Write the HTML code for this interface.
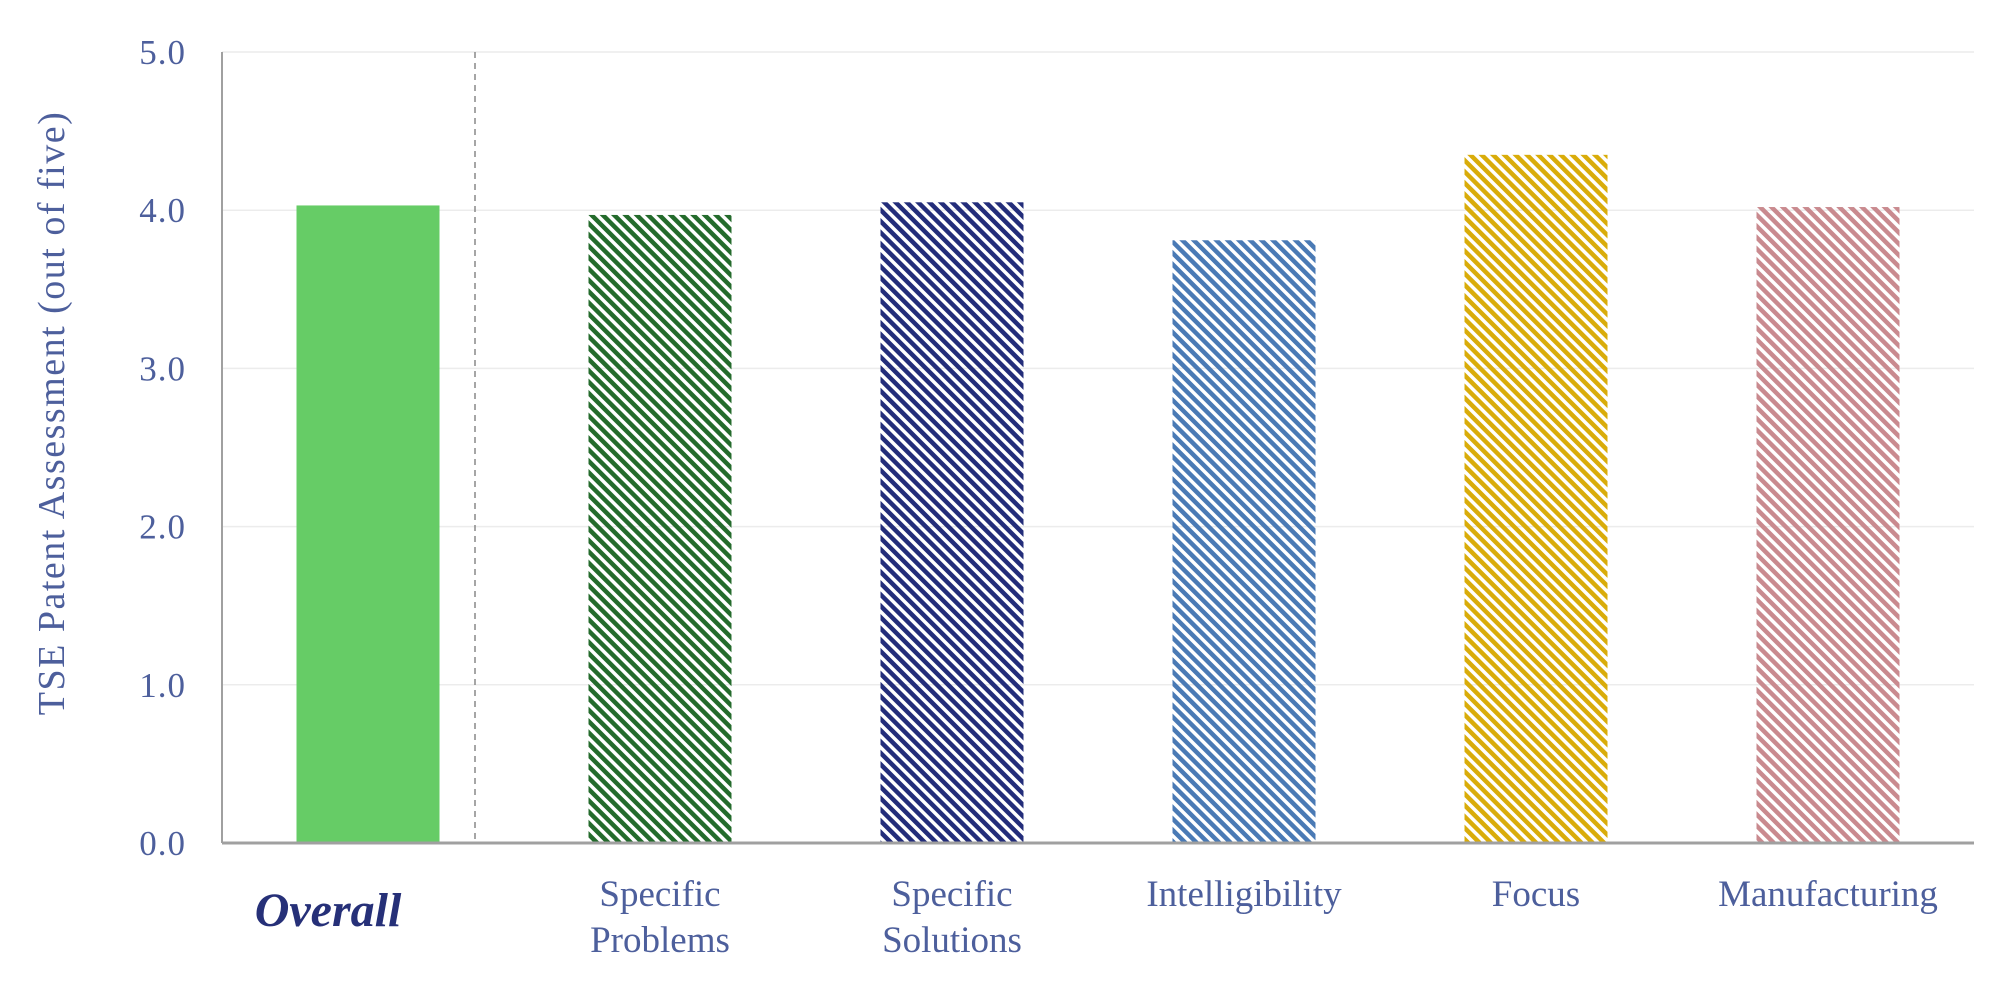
<!DOCTYPE html>
<html><head><meta charset="utf-8"><style>
html,body{margin:0;padding:0;background:#fff;}
svg{display:block;font-family:"Liberation Serif",serif;}
</style></head><body>
<svg id="chart" width="2015" height="988" viewBox="0 0 2015 988" xmlns="http://www.w3.org/2000/svg">
<defs>
</defs>
<g id="grid"></g>
<g id="bars"></g>
<g id="axes"></g>
<g id="labels"></g>
<text transform="translate(64,413) rotate(-90)" text-anchor="middle" font-size="38" letter-spacing="1.5" fill="#4d5f9c">TSE Patent Assessment (out of five)</text>
</svg>
<script>
const categories = ["Overall", "Specific|Problems", "Specific|Solutions", "Intelligibility", "Focus", "Manufacturing"];
const values = [4.03, 3.97, 4.05, 3.81, 4.35, 4.02];
const colors = ["#66cc66", "#246b2c", "#232d7a", "#4a7ab5", "#d9ac0a", "#c98a8f"];
const ticks = [0, 1, 2, 3, 4, 5];
const tickLabels = ["0.0", "1.0", "2.0", "3.0", "4.0", "5.0"];

const NS = "http://www.w3.org/2000/svg";
const X0 = 222, X1 = 1974, Y0 = 843, Y5 = 52;
const yScale = v => Y0 - (v - 0) / 5 * (Y0 - Y5);
const step = 292, first = 368, bw = 143;
const xScale = i => first + i * step;
function mk(tag, attrs, parent) {
  const e = document.createElementNS(NS, tag);
  for (const k in attrs) e.setAttribute(k, attrs[k]);
  parent.appendChild(e);
  return e;
}
const svg = document.getElementById('chart');
const defs = svg.querySelector('defs');
const grid = document.getElementById('grid');
const bars = document.getElementById('bars');
const axes = document.getElementById('axes');
const labels = document.getElementById('labels');

ticks.forEach((t, i) => {
  if (t > 0) {
    const l = mk('line', {x1: X0, x2: X1, y1: yScale(t), y2: yScale(t), stroke: '#ececec', 'stroke-width': 1.5}, grid);
    
    
  }
  const tx = mk('text', {x: 186, y: yScale(t) + 12, 'text-anchor': 'end', 'font-size': 35, 'letter-spacing': 1, fill: '#4d5f9c'}, labels);
  tx.textContent = tickLabels[i];
  
  
});

categories.forEach((c, i) => {
  const cx = xScale(i);
  let fill = colors[i];
  if (i > 0) {
    const p = mk('pattern', {id: 'h' + i, patternUnits: 'userSpaceOnUse', width: 8, height: 8, patternTransform: 'rotate(-45)'}, defs);
    mk('rect', {x: 0, y: 0, width: 4.5, height: 8, fill: colors[i]}, p);
    fill = 'url(#h' + i + ')';
  }
  const r = mk('rect', {x: cx - bw / 2, y: yScale(values[i]), width: bw, height: Y0 - yScale(values[i]), fill: fill}, bars);
  
  
  const parts = c.split('|');
  if (i === 0) {
    const t = mk('text', {x: cx - 40, y: 926, 'text-anchor': 'middle', 'font-size': 48, 'font-weight': 'bold', 'font-style': 'italic', fill: '#263078'}, labels);
    t.textContent = c;
    
    
  } else {
    parts.forEach((p, j) => {
      const t = mk('text', {x: cx, y: 906 + j * 46, 'text-anchor': 'middle', 'font-size': 37, fill: '#4d5f9c'}, labels);
      t.textContent = p;
      
      
    });
  }
});

let a = mk('line', {x1: X0, x2: X0, y1: Y5, y2: Y0, stroke: '#a0a0a0', 'stroke-width': 2}, axes);


a = mk('line', {x1: X0, x2: X1, y1: Y0, y2: Y0, stroke: '#a0a0a0', 'stroke-width': 3}, axes);


a = mk('line', {x1: 475, x2: 475, y1: Y5, y2: Y0, stroke: '#888', 'stroke-width': 1.5, 'stroke-dasharray': '6,5'}, axes);


</script>
</body></html>
